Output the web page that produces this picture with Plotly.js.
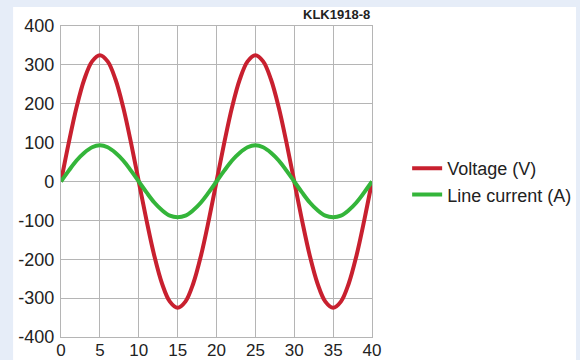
<!DOCTYPE html>
<html><head><meta charset="utf-8">
<script src="https://cdn.plot.ly/plotly-3.0.1.min.js"></script>
<style>html,body{margin:0;padding:0;}#c{width:580px;height:360px;}</style>
</head><body><div id="c"></div>
<script>
const time = [0,1,2,3,4,5,6,7,8,9,10,11,12,13,14,15,16,17,18,19,20,21,22,23,24,25,26,27,28,29,30,31,32,33,34,35,36,37,38,39,40];
const voltage = [0,100,191,263,309,325,309,263,191,100,0,-100,-191,-263,-309,-325,-309,-263,-191,-100,0,100,191,263,309,325,309,263,191,100,0,-100,-191,-263,-309,-325,-309,-263,-191,-100,0];
const current = [0,28,54,74,88,93,88,74,54,28,0,-28,-54,-74,-88,-92,-88,-74,-54,-28,0,28,54,74,88,93,88,74,54,28,0,-28,-54,-74,-88,-92,-88,-74,-54,-28,0];
const seriesNames = ["Voltage (V)", "Line current (A)"];
const xTicks = [0,5,10,15,20,25,30,35,40];
const yTicks = [-400,-300,-200,-100,0,100,200,300,400];
const tag = "KLK1918-8";

const font = {family: "Liberation Sans, Arial, sans-serif", color: "#222", size: 17};
const traces = [
  {x: time, y: voltage, name: seriesNames[0], mode: "lines", line: {color: "#c8202f", width: 4, shape: "spline"}},
  {x: time, y: current, name: seriesNames[1], mode: "lines", line: {color: "#34b53a", width: 4, shape: "spline"}}
];
const layout = {
  width: 580, height: 360,
  paper_bgcolor: "#e6edf8", plot_bgcolor: "#ffffff",
  margin: {l: 61, r: 208, t: 26, b: 23, autoexpand: false},
  font: font,
  showlegend: true,
  legend: {x: 1.113, y: 0.5, xanchor: "left", yanchor: "middle", bgcolor: "rgba(0,0,0,0)", font: {size: 18, color: "#222"}, tracegroupgap: 0},
  xaxis: {range: [0, 40], tickvals: xTicks, ticktext: xTicks.map(String), showgrid: true, gridcolor: "#b5b5b5", gridwidth: 1.2,
          zeroline: false, showline: true, mirror: true, linecolor: "#b5b5b5", linewidth: 1.2, ticks: "", ticklabelstandoff: -3, tickfont: {size: 17, color: "#222"}},
  yaxis: {range: [-400, 400], tickvals: yTicks, ticktext: yTicks.map(String), showgrid: true, gridcolor: "#b5b5b5", gridwidth: 1.2,
          zeroline: false, showline: true, mirror: true, linecolor: "#b5b5b5", linewidth: 1.2, ticks: "", ticklabelstandoff: 2, tickfont: {size: 18, color: "#222"}},
  shapes: [{type: "rect", xref: "paper", yref: "paper", x0: -0.154, x1: 1.656, y0: -0.08, y1: 1.061, fillcolor: "#ffffff", line: {width: 0}, layer: "below"}],
  annotations: [{text: "<b>" + tag + "</b>", xref: "paper", yref: "paper", x: 1.0, y: 1.0, xanchor: "right", yanchor: "bottom", yshift: 2, showarrow: false, font: {size: 13, color: "#222"}}]
};
Plotly.newPlot("c", traces, layout, {displayModeBar: false, staticPlot: true});
</script></body></html>
